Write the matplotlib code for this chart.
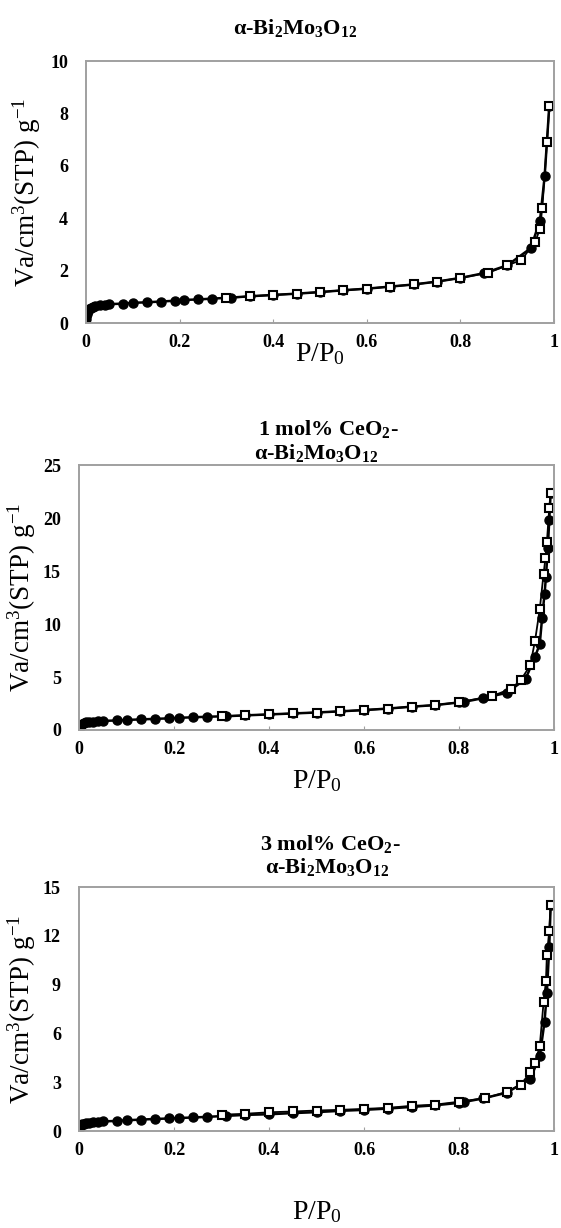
import numpy as np
import matplotlib.pyplot as plt

plt.rcParams['font.family'] = ['Liberation Serif', 'DejaVu Serif']
plt.rcParams['mathtext.fontset'] = 'custom'
plt.rcParams['mathtext.rm'] = 'Liberation Serif'
plt.rcParams['mathtext.it'] = 'Liberation Serif:italic'
plt.rcParams['mathtext.bf'] = 'Liberation Serif:bold'

# panel 1 : alpha-Bi2Mo3O12
ads1_x = [0.0005, 0.001, 0.002, 0.004, 0.007, 0.01, 0.015, 0.02, 0.03, 0.04, 0.05, 0.08, 0.1, 0.13, 0.16,
          0.19, 0.21, 0.24, 0.27, 0.31, 0.35, 0.4, 0.45, 0.5, 0.55, 0.6, 0.65, 0.7, 0.75, 0.8, 0.85,
          0.9, 0.95, 0.97, 0.98, 0.99]
ads1_y = [0.15, 0.25, 0.35, 0.45, 0.52, 0.57, 0.62, 0.65, 0.68, 0.7, 0.72, 0.74, 0.77, 0.79, 0.82,
          0.85, 0.88, 0.9, 0.93, 0.97, 1.02, 1.07, 1.12, 1.18, 1.25, 1.31, 1.39, 1.47, 1.58, 1.72, 1.9,
          2.2, 2.85, 3.9, 5.6, 8.3]
des1_x = [0.99, 0.985, 0.975, 0.97, 0.96, 0.93, 0.9, 0.86, 0.8, 0.75, 0.7, 0.65, 0.6, 0.55, 0.5,
          0.45, 0.4, 0.35, 0.3]
des1_y = [8.3, 6.9, 4.4, 3.6, 3.1, 2.4, 2.2, 1.92, 1.72, 1.58, 1.47, 1.39, 1.31, 1.25, 1.18,
          1.12, 1.07, 1.02, 0.95]

# panel 2 : 1 mol% CeO2
ads2_x = [0.0005, 0.001, 0.002, 0.004, 0.007, 0.01, 0.015, 0.02, 0.03, 0.04, 0.05, 0.08, 0.1, 0.13, 0.16,
          0.19, 0.21, 0.24, 0.27, 0.31, 0.35, 0.4, 0.45, 0.5, 0.55, 0.6, 0.65, 0.7, 0.75, 0.8, 0.81,
          0.85, 0.9, 0.94, 0.96, 0.97, 0.975, 0.98, 0.983, 0.987, 0.99, 0.993]
ads2_y = [0.1, 0.2, 0.35, 0.5, 0.6, 0.67, 0.72, 0.76, 0.8, 0.83, 0.86, 0.9, 0.95, 1.0, 1.05,
          1.1, 1.15, 1.2, 1.25, 1.3, 1.38, 1.47, 1.56, 1.65, 1.76, 1.88, 2.02, 2.2, 2.35, 2.6, 2.65,
          3.0, 3.5, 4.8, 6.9, 8.1, 10.6, 12.8, 14.4, 17.2, 19.8, 22.4]
des2_x = [0.993, 0.99, 0.985, 0.982, 0.978, 0.97, 0.96, 0.95, 0.93, 0.91, 0.87, 0.8, 0.75, 0.7,
          0.65, 0.6, 0.55, 0.5, 0.45, 0.4, 0.35, 0.3]
des2_y = [22.4, 20.9, 17.7, 16.2, 14.7, 11.4, 8.4, 6.1, 4.7, 3.9, 3.2, 2.62, 2.35, 2.2,
          2.02, 1.88, 1.76, 1.65, 1.56, 1.47, 1.38, 1.3]

# panel 3 : 3 mol% CeO2
ads3_x = [0.0005, 0.001, 0.002, 0.004, 0.007, 0.01, 0.015, 0.02, 0.03, 0.04, 0.05, 0.08, 0.1, 0.13, 0.16,
          0.19, 0.21, 0.24, 0.27, 0.31, 0.35, 0.4, 0.45, 0.5, 0.55, 0.6, 0.65, 0.7, 0.75, 0.8, 0.81,
          0.85, 0.9, 0.95, 0.97, 0.98, 0.985, 0.99, 0.993]
ads3_y = [0.1, 0.18, 0.27, 0.36, 0.42, 0.46, 0.5, 0.52, 0.55, 0.57, 0.59, 0.62, 0.66, 0.7, 0.74,
          0.77, 0.8, 0.83, 0.87, 0.93, 0.99, 1.03, 1.1, 1.16, 1.24, 1.3, 1.38, 1.48, 1.58, 1.73, 1.78,
          2.0, 2.35, 3.2, 4.6, 6.7, 8.5, 11.3, 13.9]
des3_x = [0.993, 0.99, 0.985, 0.983, 0.978, 0.97, 0.96, 0.95, 0.93, 0.9, 0.855, 0.8, 0.75, 0.7,
          0.65, 0.6, 0.55, 0.5, 0.45, 0.4, 0.35, 0.3]
des3_y = [13.9, 12.3, 10.8, 9.2, 7.9, 5.2, 4.2, 3.6, 2.85, 2.4, 2.02, 1.8, 1.62, 1.55,
          1.42, 1.36, 1.3, 1.26, 1.2, 1.15, 1.06, 1.0]

titles = [['α-Bi$_\\mathbf{2}$Mo$_\\mathbf{3}$O$_\\mathbf{12}$'],
          ['1 mol% CeO$_\\mathbf{2}$-', 'α-Bi$_\\mathbf{2}$Mo$_\\mathbf{3}$O$_\\mathbf{12}$'],
          ['3 mol% CeO$_\\mathbf{2}$-', 'α-Bi$_\\mathbf{2}$Mo$_\\mathbf{3}$O$_\\mathbf{12}$']]
title_pos = [[(295, 28)], [(328, 429), (316, 453)], [(330, 844), (327, 867)]]
ylims = [10, 25, 15]
yticks = [[0, 2, 4, 6, 8, 10], [0, 5, 10, 15, 20, 25], [0, 3, 6, 9, 12, 15]]
xlab_y = [354, 781, 1212]
ylab_x = [27, 22, 22]

W, H = 561, 1228
boxes = [(86, 61, 554, 323), (79, 465, 554, 730), (79, 887, 554, 1131)]
data = [(ads1_x, ads1_y, des1_x, des1_y), (ads2_x, ads2_y, des2_x, des2_y), (ads3_x, ads3_y, des3_x, des3_y)]

fig = plt.figure(figsize=(W / 100, H / 100), dpi=100)
for i in range(3):
    l, t, r, b = boxes[i]
    ax = fig.add_axes([l / W, 1 - b / H, (r - l) / W, (b - t) / H])
    ax_, ay_, dx_, dy_ = data[i]
    ax.plot(ax_, ay_, '-o', color='black', lw=1.8, ms=6.5, mfc='black', mec='black')
    ax.plot(dx_, dy_, '-s', color='black', lw=1.3, ms=6, mfc='white', mec='black', mew=1.5)
    ax.set_xlim(0, 1)
    ax.set_ylim(0, ylims[i])
    ax.set_yticks(yticks[i])
    ax.set_xticks([0, 0.2, 0.4, 0.6, 0.8, 1])
    ax.set_xticklabels(['0', '0.2', '0.4', '0.6', '0.8', '1'])
    for s in ax.spines.values():
        s.set_color('#a0a0a0')
        s.set_linewidth(1.4)
    ax.tick_params(direction='in', length=3, color='#a0a0a0', labelsize=13)
    ax.tick_params(axis='x', pad=8)
    ax.tick_params(axis='y', length=0, pad=13)
    for lab in ax.get_xticklabels() + ax.get_yticklabels():
        lab.set_fontweight('bold')
    fig.text(ylab_x[i] / W, 1 - (t + b) / 2 / H, 'Va/cm$^3$(STP) g$^{-1}$', fontsize=19.5,
             rotation=90, ha='center', va='center')
    fig.text((l + r) / 2 / W, 1 - xlab_y[i] / H, 'P/P$_0$', fontsize=20, ha='center', va='center')
    for txt, (px, py) in zip(titles[i], title_pos[i]):
        fig.text(px / W, 1 - py / H, txt, fontsize=16, fontweight='bold', ha='center', va='center')

fig.savefig('out.png', dpi=100)
